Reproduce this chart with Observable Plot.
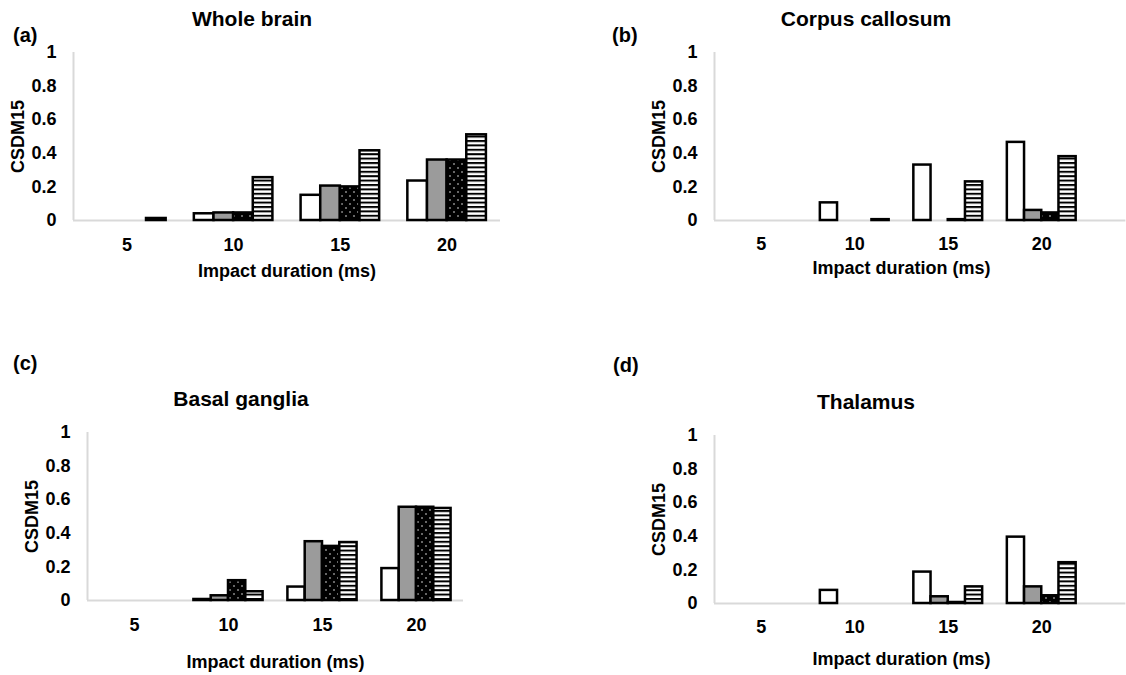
<!DOCTYPE html>
<html>
<head>
<meta charset="utf-8">
<script src="https://cdn.jsdelivr.net/npm/d3@7"></script>
<script src="https://cdn.jsdelivr.net/npm/@observablehq/plot@0.6"></script>
<style>
  body { margin: 0; background: #fff; }
  #page { position: relative; width: 1126px; height: 675px; overflow: hidden;
          font-family: "Liberation Sans", Arial, sans-serif; font-weight: bold; color: #000; }
  #page > svg.panel { position: absolute; }
  #overlay { position: absolute; left: 0; top: 0; }
  #overlay text { font-family: "Liberation Sans", Arial, sans-serif; font-weight: bold; fill: #000; }
</style>
</head>
<body>
<div id="page">
  <svg id="overlay" width="1126" height="675">
    <defs>
      <pattern id="dots" width="8" height="8" patternUnits="userSpaceOnUse">
        <rect width="8" height="8" fill="#000"></rect>
        <circle cx="2" cy="2" r="0.75" fill="#fff"></circle>
        <circle cx="6" cy="6" r="0.75" fill="#fff"></circle>
      </pattern>
      <pattern id="stripes" width="6" height="4.4" patternUnits="userSpaceOnUse">
        <rect width="6" height="4.4" fill="#fff"></rect>
        <rect width="6" height="2" fill="#000"></rect>
      </pattern>
    </defs>
  </svg>
</div>
<script>
// Impact durations (ms) shown on the x axis
const durations = [5, 10, 15, 20];
// The four bar series, in the order they sit within each group
const series = ["open", "grey", "dotted", "striped"];
const seriesFill = ["#ffffff", "#9b9b9b", "url(#dots)", "url(#stripes)"];
const yTicks = [0, 0.2, 0.4, 0.6, 0.8, 1];

// CSDM15 values, one entry per duration (5, 10, 15, 20 ms)
const wholeBrainOpen    = [0,     0.04,  0.15,  0.235];
const wholeBrainGrey    = [0,     0.045, 0.205, 0.36];
const wholeBrainDotted  = [0,     0.045, 0.2,   0.36];
const wholeBrainStriped = [0.012, 0.255, 0.415, 0.51];

const corpusOpen    = [0, 0.105, 0.33,  0.465];
const corpusGrey    = [0, 0,     0,     0.06];
const corpusDotted  = [0, 0,     0.005, 0.045];
const corpusStriped = [0, 0.005, 0.23,  0.38];

const basalOpen    = [0, 0.006, 0.08,  0.19];
const basalGrey    = [0, 0.028, 0.35,  0.555];
const basalDotted  = [0, 0.118, 0.322, 0.555];
const basalStriped = [0, 0.052, 0.345, 0.548];

const thalamusOpen    = [0, 0.078, 0.187, 0.395];
const thalamusGrey    = [0, 0,     0.04,  0.099];
const thalamusDotted  = [0, 0,     0.006, 0.046];
const thalamusStriped = [0, 0,     0.099, 0.243];

const panelTitles = ["Whole brain", "Corpus callosum", "Basal ganglia", "Thalamus"];
const panelLetters = ["(a)", "(b)", "(c)", "(d)"];

// width of one bar, in ms along the x scale
const barWidth = 0.92;

function tidy(rows) {
  return rows.flatMap((values, k) =>
    values.map((value, i) => ({duration: durations[i], series: series[k], k, value})));
}

function panel({rows, left, top, width, height, margin, xLabelOffset, xTickPadding, extendBaseline}) {
  const xDomain = [2.5, 22.5];
  const data = tidy(rows).filter(d => d.value > 0);
  const chart = Plot.plot({
    width, height,
    marginLeft: margin[0], marginRight: margin[1], marginTop: margin[2], marginBottom: margin[3],
    style: {fontFamily: "'Liberation Sans', Arial, sans-serif", fontWeight: "bold", fontSize: "18px", color: "#000", background: "transparent", overflow: "visible"},
    x: {domain: xDomain},
    y: {domain: [0, 1]},
    color: {type: "ordinal", domain: series, range: seriesFill},
    marks: [
      Plot.ruleX([xDomain[0]], {stroke: "#d9d9d9", strokeWidth: 2}),
      Plot.ruleY([0], {x1: xDomain[0], x2: xDomain[1] + extendBaseline, stroke: "#d9d9d9", strokeWidth: 2}),
      Plot.rectY(data, {
        x1: d => d.duration + (d.k - 2) * barWidth,
        x2: d => d.duration + (d.k - 1) * barWidth,
        y1: 0,
        y2: "value",
        fill: "series",
        stroke: "#000",
        strokeWidth: 2.5
      }),
      Plot.axisX({ticks: durations, tickFormat: d => String(d), tickSize: 0, tickPadding: xTickPadding,
                  label: "Impact duration (ms)", labelAnchor: "center", labelOffset: xLabelOffset, labelArrow: "none"}),
      Plot.axisY({ticks: yTicks, tickFormat: d => String(d), tickSize: 0, tickPadding: 17,
                  label: "CSDM15", labelAnchor: "center", labelOffset: 62, labelArrow: "none"})
    ]
  });
  chart.classList.add("panel");
  chart.style.left = left + "px";
  chart.style.top = top + "px";
  document.getElementById("page").appendChild(chart);
}

panel({rows: [wholeBrainOpen, wholeBrainGrey, wholeBrainDotted, wholeBrainStriped],
       left: 0, top: 30, width: 560, height: 265, margin: [73, 60, 22, 75],
       xLabelOffset: 56, xTickPadding: 18, extendBaseline: 0});
panel({rows: [corpusOpen, corpusGrey, corpusDotted, corpusStriped],
       left: 560, top: 30, width: 566, height: 265, margin: [154, 38, 22, 75],
       xLabelOffset: 53, xTickPadding: 17, extendBaseline: 2});
panel({rows: [basalOpen, basalGrey, basalDotted, basalStriped],
       left: 0, top: 400, width: 560, height: 275, margin: [87, 97, 32, 75],
       xLabelOffset: 67, xTickPadding: 18, extendBaseline: 0});
panel({rows: [thalamusOpen, thalamusGrey, thalamusDotted, thalamusStriped],
       left: 560, top: 400, width: 566, height: 275, margin: [154, 38, 35, 72],
       xLabelOffset: 61, xTickPadding: 17, extendBaseline: 2});

// Panel titles and letters
const overlay = d3.select("#overlay");
const titlePos = [[252, 26], [866, 26], [241, 406], [866, 409]];
const letterPos = [[13, 42], [612, 42], [13, 370], [613, 372]];
panelTitles.forEach((t, i) => {
  overlay.append("text").attr("x", titlePos[i][0]).attr("y", titlePos[i][1])
    .attr("text-anchor", "middle").attr("font-size", 21).text(t);
  overlay.append("text").attr("x", letterPos[i][0]).attr("y", letterPos[i][1])
    .attr("font-size", 20).text(panelLetters[i]);
});
</script>
</body>
</html>
